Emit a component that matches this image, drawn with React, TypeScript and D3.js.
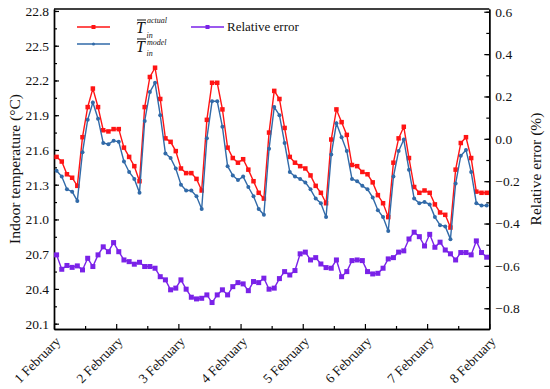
import * as d3 from 'd3';
import { useEffect, useRef } from 'react';

// 2-hourly samples, first at 01:00 on 1 February
const firstHour = 1;
const stepHours = 2;
const days = ['1 February', '2 February', '3 February', '4 February', '5 February', '6 February', '7 February', '8 February'];

const actual = [
  21.54, 21.50, 21.39, 21.36, 21.29, 21.71, 21.97, 22.13, 21.97, 21.77, 21.76, 21.78,
  21.78, 21.62, 21.54, 21.46, 21.33, 21.97, 22.23, 22.31, 22.04, 21.70, 21.67, 21.59,
  21.44, 21.40, 21.40, 21.35, 21.25, 21.86, 22.18, 22.18, 21.95, 21.62, 21.53, 21.49,
  21.52, 21.43, 21.33, 21.23, 21.18, 21.75, 22.11, 22.04, 21.79, 21.54, 21.49, 21.46,
  21.44, 21.38, 21.29, 21.23, 21.14, 21.69, 21.95, 21.84, 21.73, 21.47, 21.46, 21.41,
  21.39, 21.32, 21.21, 21.14, 21.02, 21.49, 21.70, 21.80, 21.53, 21.28, 21.23, 21.25,
  21.23, 21.13, 21.06, 21.04, 20.93, 21.43, 21.66, 21.71, 21.53, 21.24, 21.23, 21.23,
];

const model = [
  21.42, 21.37, 21.26, 21.24, 21.16, 21.58, 21.86, 22.01, 21.87, 21.66, 21.65, 21.68,
  21.67, 21.50, 21.41, 21.35, 21.23, 21.85, 22.10, 22.18, 21.90, 21.57, 21.53, 21.44,
  21.30, 21.25, 21.25, 21.20, 21.09, 21.70, 22.02, 22.02, 21.80, 21.46, 21.38, 21.34,
  21.37, 21.28, 21.20, 21.09, 21.04, 21.61, 21.97, 21.90, 21.66, 21.41, 21.37, 21.35,
  21.32, 21.26, 21.18, 21.14, 21.02, 21.56, 21.83, 21.71, 21.59, 21.35, 21.33, 21.29,
  21.26, 21.19, 21.08, 21.02, 20.90, 21.37, 21.59, 21.69, 21.43, 21.18, 21.14, 21.15,
  21.13, 21.02, 20.95, 20.94, 20.83, 21.31, 21.55, 21.60, 21.41, 21.14, 21.12, 21.12,
];

const relError = [
  -0.548, -0.616, -0.598, -0.607, -0.600, -0.619, -0.564, -0.603, -0.548, -0.510, -0.533, -0.490,
  -0.533, -0.572, -0.580, -0.592, -0.583, -0.603, -0.603, -0.611, -0.651, -0.666, -0.713, -0.705,
  -0.666, -0.710, -0.748, -0.756, -0.753, -0.737, -0.773, -0.737, -0.713, -0.737, -0.698, -0.679,
  -0.685, -0.717, -0.674, -0.679, -0.658, -0.710, -0.705, -0.660, -0.627, -0.643, -0.622, -0.543,
  -0.535, -0.572, -0.561, -0.591, -0.608, -0.611, -0.572, -0.651, -0.627, -0.575, -0.572, -0.575,
  -0.627, -0.638, -0.635, -0.611, -0.567, -0.561, -0.535, -0.529, -0.473, -0.441, -0.462, -0.506,
  -0.451, -0.512, -0.488, -0.525, -0.543, -0.572, -0.537, -0.537, -0.548, -0.482, -0.537, -0.559,
];

const leftTicks = [20.1, 20.4, 20.7, 21.0, 21.3, 21.6, 21.9, 22.2, 22.5, 22.8];
const rightTicks = [-0.8, -0.6, -0.4, -0.2, 0.0, 0.2, 0.4, 0.6];

const RED = '#ff1414';
const BLUE = '#316aa8';
const PURPLE = '#7a22e8';
const FONT = '"Liberation Serif", "Times New Roman", serif';

export default function App() {
  const ref = useRef<SVGSVGElement>(null);

  useEffect(() => {
    if (!ref.current) return;
    const svg = d3.select(ref.current);
    svg.selectAll('*').remove();

    const left = 54, right = 489.3, top = 9, bottom = 329;

    const x = d3.scaleLinear().domain([0, 168]).range([left, right]);
    const yL = d3.scaleLinear().domain([20.054, 22.817]).range([bottom, top]);
    const yR = d3.scaleLinear().domain([-0.898, 0.613]).range([bottom, top]);
    const hour = (i: number) => firstHour + stepHours * i;

    const styleAxis = (g: any) => {
      g.selectAll('path').attr('stroke', '#000').attr('stroke-width', 1.4);
      g.selectAll('line').attr('stroke', '#000').attr('stroke-width', 1.2);
      g.selectAll('text').attr('font-family', FONT).attr('font-size', 13.5).attr('fill', '#111');
    };

    // minor ticks
    svg.append('g').attr('transform', `translate(${left},0)`)
      .call(d3.axisLeft(yL).tickValues(d3.range(20.1, 22.81, 0.15)).tickSizeInner(-3).tickSizeOuter(0).tickFormat(() => ''))
      .call(styleAxis);
    svg.append('g').attr('transform', `translate(${right},0)`)
      .call(d3.axisRight(yR).tickValues(d3.range(-0.8, 0.61, 0.1)).tickSizeInner(-3).tickSizeOuter(0).tickFormat(() => ''))
      .call(styleAxis);
    svg.append('g').attr('transform', `translate(0,${bottom})`)
      .call(d3.axisBottom(x).tickValues(d3.range(12, 168, 24)).tickSizeInner(-3).tickSizeOuter(0).tickFormat(() => ''))
      .call(styleAxis);

    // major ticks
    svg.append('g').attr('transform', `translate(${left},0)`)
      .call(d3.axisLeft(yL).tickValues(leftTicks).tickSizeInner(-5).tickSizeOuter(0).tickPadding(5).tickFormat(d3.format('.1f')))
      .call(styleAxis);
    svg.append('g').attr('transform', `translate(${right},0)`)
      .call(d3.axisRight(yR).tickValues(rightTicks).tickSizeInner(-5).tickSizeOuter(0).tickPadding(6).tickFormat(d3.format('.1f')))
      .call(styleAxis);
    svg.append('g').attr('transform', `translate(0,${bottom})`)
      .call(d3.axisBottom(x).tickValues(days.map((_, i) => i * 24)).tickSizeInner(-5).tickSizeOuter(0).tickFormat(() => ''))
      .call(styleAxis);

    svg.append('line').attr('x1', left).attr('x2', right).attr('y1', top).attr('y2', top)
      .attr('stroke', '#000').attr('stroke-width', 1.4);

    // day labels
    svg.append('g').selectAll('text').data(days).join('text')
      .attr('transform', (_, i) => `translate(${x(i * 24) + 4},${bottom + 10}) rotate(-45)`)
      .attr('text-anchor', 'end')
      .attr('dy', '0.35em')
      .attr('font-family', FONT).attr('font-size', 13.5).attr('fill', '#111')
      .text(d => d);

    // axis titles
    svg.append('text')
      .attr('transform', `translate(20,${(top + bottom) / 2}) rotate(-90)`)
      .attr('text-anchor', 'middle')
      .attr('font-family', FONT).attr('font-size', 15.5).attr('fill', '#111')
      .text('Indoor temperature (°C)');
    svg.append('text')
      .attr('transform', `translate(541,${(top + bottom) / 2}) rotate(-90)`)
      .attr('text-anchor', 'middle')
      .attr('font-family', FONT).attr('font-size', 15.5).attr('fill', '#111')
      .text('Relative error (%)');

    const drawSeries = (values: number[], y: any, color: string, marker: 'square' | 'circle', size: number) => {
      const line = d3.line<number>().x((_, i) => x(hour(i))).y(d => y(d));
      svg.append('path').datum(values).attr('d', line)
        .attr('fill', 'none').attr('stroke', color).attr('stroke-width', 1.4);
      const g = svg.append('g').attr('fill', color);
      if (marker === 'square') {
        g.selectAll('rect').data(values).join('rect')
          .attr('x', (_, i) => x(hour(i)) - size / 2)
          .attr('y', d => y(d) - size / 2)
          .attr('width', size).attr('height', size);
      } else {
        g.selectAll('circle').data(values).join('circle')
          .attr('cx', (_, i) => x(hour(i)))
          .attr('cy', d => y(d))
          .attr('r', size / 2);
      }
    };

    drawSeries(relError, yR, PURPLE, 'square', 5);
    drawSeries(actual, yL, RED, 'square', 4.5);
    drawSeries(model, yL, BLUE, 'circle', 4);

    // legend
    const legendItem = (lx: number, ly: number, color: string, marker: 'square' | 'circle', size: number) => {
      svg.append('line').attr('x1', lx).attr('x2', lx + 33).attr('y1', ly).attr('y2', ly)
        .attr('stroke', color).attr('stroke-width', 1.4);
      if (marker === 'square') {
        svg.append('rect').attr('x', lx + 16.5 - size / 2).attr('y', ly - size / 2)
          .attr('width', size).attr('height', size).attr('fill', color);
      } else {
        svg.append('circle').attr('cx', lx + 16.5).attr('cy', ly).attr('r', size / 2).attr('fill', color);
      }
    };
    legendItem(77, 27, RED, 'square', 4);
    legendItem(77, 44, BLUE, 'circle', 3);
    legendItem(191, 27, PURPLE, 'square', 4);

    const tSymbol = (tx: number, ty: number, sup: string, supY: number, subY: number) => {
      svg.append('text').attr('x', tx).attr('y', ty)
        .attr('font-family', FONT).attr('font-size', 16).attr('font-style', 'italic').attr('fill', '#111')
        .text('T');
      svg.append('line').attr('x1', tx + 1).attr('x2', tx + 10).attr('y1', ty - 13).attr('y2', ty - 13)
        .attr('stroke', '#111').attr('stroke-width', 1);
      svg.append('text').attr('x', tx + 11).attr('y', supY)
        .attr('font-family', FONT).attr('font-size', 8).attr('font-style', 'italic').attr('fill', '#111')
        .text(sup);
      svg.append('text').attr('x', tx + 10.5).attr('y', subY)
        .attr('font-family', FONT).attr('font-size', 8).attr('font-style', 'italic').attr('fill', '#111')
        .text('in');
    };
    tSymbol(136, 33, 'actual', 22.5, 37.5);
    tSymbol(136, 52, 'model', 45, 56);

    svg.append('text').attr('x', 227).attr('y', 31)
      .attr('font-family', FONT).attr('font-size', 13).attr('fill', '#111')
      .text('Relative error');
  }, []);

  return (
    <svg ref={ref} width={550} height={389}
      style={{ position: 'absolute', left: 0, top: 0, background: '#fff' }} />
  );
}
